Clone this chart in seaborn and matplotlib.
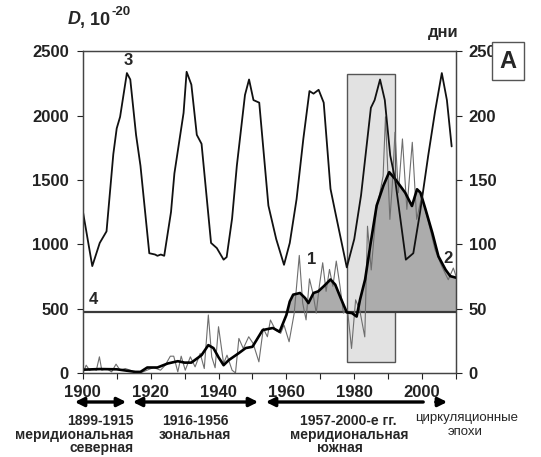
import numpy as np
import pandas as pd
import matplotlib
matplotlib.use('Agg')
import matplotlib.pyplot as plt
import seaborn as sns
from matplotlib.patches import Rectangle, FancyArrowPatch

# --- данные ---
# кривая 3: длительность (дни), правая ось
years3 = [1900, 1902.8, 1905, 1907, 1909, 1910, 1911, 1913, 1914, 1915.7, 1917,
          1919.6, 1921.3, 1922, 1923, 1924, 1926, 1927, 1929.7, 1930.6, 1932,
          1933.6, 1935, 1937.8, 1939.5, 1941.5, 1942.4, 1944, 1945.4, 1947.8,
          1949, 1950.3, 1952, 1954.7, 1957, 1959.3, 1961, 1963, 1965, 1966.8,
          1968, 1969.5, 1971, 1973, 1974.4, 1977.8, 1980, 1982, 1984.9, 1986,
          1987.6, 1989, 1990.6, 1992, 1995.2, 1997.4, 1999.4, 2001.8, 2003.8,
          2005.8, 2007.3, 2008.7]
days3 = [126, 83, 101, 110, 170, 190, 199, 233, 228, 185, 161,
         93, 92, 91, 92, 91, 125, 155, 202, 234, 224,
         185, 178, 101, 97, 88, 90, 120, 161, 216,
         228, 212, 210, 130, 104, 84, 101, 135, 182, 219,
         217, 220, 210, 143, 125, 82, 104, 138, 206, 212,
         228, 212, 169, 151, 88, 93, 125, 169, 203,
         233, 212, 176]

# кривая 1: D по годам (тонкая)
years1 = [1900.2, 1901, 1902, 1903, 1904, 1904.9, 1905.6, 1907, 1908.5, 1909.8,
          1911, 1912.5, 1914, 1915.5, 1917, 1918.9, 1920.9, 1922.9, 1924.3,
          1925.8, 1926.8, 1928, 1929, 1930.2, 1931.7, 1933.1, 1934.6, 1935.8,
          1937, 1938, 1939, 1940, 1941.5, 1942.5, 1944, 1945, 1946, 1947.3,
          1948.9, 1950.2, 1951.9, 1953.2, 1954.4, 1955.3, 1956.8, 1958.3,
          1959.3, 1960.8, 1962.3, 1963.8, 1964.8, 1965.8, 1966.8, 1967.8,
          1968.8, 1969.7, 1970.7, 1971.7, 1972.7, 1973.7, 1974.7, 1975.8,
          1976.8, 1978, 1979.2, 1980.4, 1981.6, 1983.1, 1983.9, 1985, 1986.5,
          1987.4, 1988.5, 1989.2, 1990.5, 1991.2, 1992, 1993, 1994.2, 1995.5,
          1997.1, 1998.4, 1999.9, 2001.9, 2003.8, 2005.8, 2007.7, 2009.2, 2010]
vals1 = [8, 60, 21, 34, 21, 125, 21, 34, 8, 68,
         21, 34, 21, 0, 0, 21, 42, 21, 60,
         130, 130, 8, 130, 21, 125, 47, 151, 34,
         450, 125, 40, 359, 73, 138, 21, 0, 268, 190,
         281, 229, 86, 346, 281, 411, 333, 307,
         372, 242, 463, 913, 543, 412, 731, 621,
         465, 673, 856, 634, 804, 673, 869, 673,
         465, 491, 190, 568, 490, 280, 1140, 800, 1270,
         1378, 1530, 1990, 1193, 1456, 1870, 1400, 1818, 1271,
         1792, 1193, 1375, 1167, 958, 828, 724, 815, 750]

# кривая 2: сглаженная D (жирная)
years2 = [1900, 1905, 1910, 1915.5, 1917, 1919, 1922, 1925, 1928, 1930, 1932,
          1935, 1937, 1938.5, 1940, 1941.5, 1943, 1946, 1948, 1950, 1953, 1956,
          1958, 1960, 1961, 1962, 1964, 1965.5, 1966.5, 1968, 1969.4, 1971,
          1973, 1974.4, 1976, 1977.8, 1979.3, 1980.7, 1981.7, 1983.2, 1984.7,
          1986.6, 1988.6, 1990.3, 1992.1, 1995, 1997, 1998.5, 1999.5, 2001,
          2003, 2004.8, 2006.9, 2008.3, 2010]
vals2 = [25, 30, 28, 8, 8, 42, 42, 73, 91, 80, 80,
         138, 216, 193, 122, 60, 99, 154, 193, 203, 333, 349,
         320, 450, 555, 608, 621, 582, 543, 621, 634, 673,
         726, 686, 582, 470, 465, 438, 569, 726, 987,
         1300, 1456, 1560, 1505, 1401, 1297, 1427, 1401, 1271,
         1089, 906, 802, 752, 740]

level4 = 470                  # линия 4
box_years = (1978, 1992)      # выделенный период
box_vals = (85, 2320)

xticks = list(range(1900, 2011, 10))
xlabels = [str(y) if (y - 1900) % 20 == 0 and y <= 2000 else '' for y in xticks]

# --- оформление ---
sns.set_style('ticks')
plt.rcParams['font.family'] = ['Liberation Sans', 'DejaVu Sans']
plt.rcParams['font.weight'] = 'bold'

fig = plt.figure(figsize=(5.41, 4.57), dpi=100)
ax = fig.add_axes([0.153, 0.184, 0.690, 0.704])

d1 = pd.DataFrame({'year': years1, 'D': vals1})
d2 = pd.DataFrame({'year': years2, 'D': vals2})
d3 = pd.DataFrame({'year': years3, 'D': np.array(days3) * 10})

ax.add_patch(Rectangle((box_years[0], box_vals[0]), box_years[1] - box_years[0],
                       box_vals[1] - box_vals[0], facecolor='#e2e2e2',
                       edgecolor='#555555', lw=1.0, zorder=0))

y2 = np.array(vals2, dtype=float)
ax.fill_between(years2, level4, y2, where=y2 > level4, interpolate=True,
                color='#acacac', lw=0, zorder=1)
ax.axhline(level4, color='#3a3a3a', lw=1.6, zorder=2)

sns.lineplot(data=d1, x='year', y='D', ax=ax, color='#6e6e6e', lw=0.8,
             sort=False, zorder=3)
sns.lineplot(data=d2, x='year', y='D', ax=ax, color='black', lw=1.9,
             sort=False, zorder=4)
sns.lineplot(data=d3, x='year', y='D', ax=ax, color='#111111', lw=1.3,
             sort=False, zorder=5)

ax.set_xlim(1900, 2010)
ax.set_ylim(0, 2500)
ax.set_xticks(xticks)
ax.set_xticklabels(xlabels)
ax.set_yticks(range(0, 2501, 500))
ax.set_xlabel('')
ax.set_ylabel('')
ax.tick_params(axis='both', labelsize=12, length=4, width=0.8, colors='#222222')
ax.tick_params(axis='x', pad=5)
ax.tick_params(axis='y', pad=6)
for s in ax.spines.values():
    s.set_color('#444444')
    s.set_linewidth(0.9)

axr = ax.twinx()
axr.set_ylim(0, 250)
axr.set_yticks(range(0, 251, 50))
axr.tick_params(axis='y', labelsize=12, length=4, width=0.8, pad=5, colors='#222222')
for s in axr.spines.values():
    s.set_color('#444444')
    s.set_linewidth(0.9)

# подписи кривых
ax.text(1913.5, 2370, '3', fontsize=12, fontweight='bold', ha='center', va='bottom')
ax.text(1967.5, 820, '1', fontsize=12, fontweight='bold', ha='center', va='bottom')
ax.text(2007.5, 830, '2', fontsize=12, fontweight='bold', ha='center', va='bottom')
ax.text(1903, 510, '4', fontsize=12, fontweight='bold', ha='center', va='bottom')

fig.text(68 / 541, 1 - 20 / 457, 'D', fontsize=13, fontweight='bold',
         style='italic', va='center', ha='left')
fig.text(80 / 541, 1 - 20 / 457, ', 10', fontsize=13, fontweight='bold',
         va='center', ha='left')
fig.text(112 / 541, 1 - 12 / 457, '-20', fontsize=9.5, fontweight='bold',
         va='center', ha='left')
fig.text(443 / 541, 1 - 32 / 457, 'дни', fontsize=12, fontweight='bold',
         va='center', ha='center')
fig.text(508 / 541, 1 - 61 / 457, 'A', fontsize=17, fontweight='bold',
         va='center', ha='center',
         bbox=dict(boxstyle='square,pad=0.3', facecolor='white',
                   edgecolor='#555555', lw=1.0))

# эпохи и стрелки под осью
arr_y = 1 - 402 / 457
arrows = [(72, 129, '<|-|>'), (130, 261, '<|-|>'), (263, 426, '<|-'), (433, 450, '-|>')]
for x0, x1, st in arrows:
    fig.patches.append(FancyArrowPatch(
        (x0 / 541, arr_y), (x1 / 541, arr_y), transform=fig.transFigure,
        arrowstyle=st, mutation_scale=13, lw=2.4, color='black'))

rows = [1 - 421 / 457, 1 - 435 / 457, 1 - 448 / 457]
fig.text(134 / 541, rows[0], '1899-1915', fontsize=10, fontweight='bold', ha='right', va='center')
fig.text(134 / 541, rows[1], 'меридиональная', fontsize=10, fontweight='bold', ha='right', va='center')
fig.text(134 / 541, rows[2], 'северная', fontsize=10, fontweight='bold', ha='right', va='center')
fig.text(195 / 541, rows[0], '1916-1956', fontsize=10, fontweight='bold', ha='center', va='center')
fig.text(195 / 541, rows[1], 'зональная', fontsize=10, fontweight='bold', ha='center', va='center')
fig.text(348 / 541, rows[0], '1957-2000-е гг.', fontsize=10, fontweight='bold', ha='center', va='center')
fig.text(349 / 541, rows[1], 'меридиональная', fontsize=10, fontweight='bold', ha='center', va='center')
fig.text(340 / 541, rows[2], 'южная', fontsize=10, fontweight='bold', ha='center', va='center')
fig.text(467 / 541, 1 - 418 / 457, 'циркуляционные', fontsize=9.5, fontweight='normal', ha='center', va='center')
fig.text(465 / 541, 1 - 432 / 457, 'эпохи', fontsize=9.5, fontweight='normal', ha='center', va='center')

fig.savefig('out.png', dpi=100)
